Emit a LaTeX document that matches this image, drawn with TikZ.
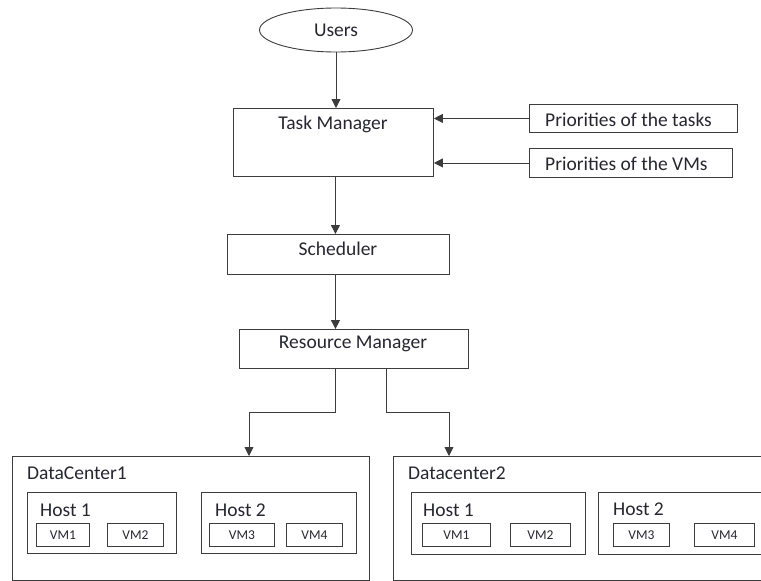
\documentclass[tikz,border=0pt]{standalone}
\usepackage{fontspec}
\setmainfont{Carlito}
\usetikzlibrary{arrows.meta,shapes.geometric}
\definecolor{linegray}{HTML}{3C3C3C}
\definecolor{textgray}{HTML}{262630}
\tikzset{
  box/.style={draw=linegray,line width=0.9pt,anchor=north west,inner sep=0pt},
  lbl/.style={text=textgray,inner sep=0pt,font=\fontsize{19.5}{22}\selectfont},
  vmlbl/.style={text=textgray,inner sep=0pt,font=\fontsize{13.5}{15}\selectfont},
  arr/.style={draw=linegray,line width=0.9pt,-{Triangle[length=9pt,width=9pt]}}
}
\begin{document}
\begin{tikzpicture}[x=1pt,y=-1pt]
\useasboundingbox (0,0) rectangle (761,581);
%% users
\node[draw=linegray,line width=0.9pt,ellipse,minimum width=153pt,minimum height=44pt] (users) at (336,30) {};
\node[lbl] at (users.center) {Users};
%% task manager and priorities
\node[box,minimum width=200pt,minimum height=68pt] (tm) at (233,108) {};
\node[lbl] at (333,124) {Task Manager};
\node[box,minimum width=208pt,minimum height=28pt] (ptask) at (529,104) {};
\node[lbl,anchor=west] at (545,120) {Priorities of the tasks};
\node[box,minimum width=203pt,minimum height=29pt] (pvm) at (529,148) {};
\node[lbl,anchor=west] at (545,164) {Priorities of the VMs};
%% scheduler
\node[box,minimum width=222pt,minimum height=40pt] (sched) at (227,234) {};
\node[lbl] at (338,249) {Scheduler};
%% resource manager
\node[box,minimum width=229pt,minimum height=39pt] (rm) at (239,329) {};
\node[lbl] at (353,344) {Resource Manager};
%% datacenter 1
\node[box,minimum width=357pt,minimum height=124pt] (dc1) at (12,456) {};
\node[lbl,anchor=west] at (27,473) {DataCenter1};
\node[box,minimum width=149pt,minimum height=61pt] (dc1h1) at (27,492) {};
\node[lbl,anchor=west] at (40,510) {Host 1};
\node[box,minimum width=53pt,minimum height=23pt] (dc1vm1) at (36,523) {};
\node[vmlbl] at (dc1vm1.center) {VM1};
\node[box,minimum width=56pt,minimum height=23pt] (dc1vm2) at (107,523) {};
\node[vmlbl] at (dc1vm2.center) {VM2};
\node[box,minimum width=155pt,minimum height=61pt] (dc1h2) at (201,492) {};
\node[lbl,anchor=west] at (215,510) {Host 2};
\node[box,minimum width=65pt,minimum height=23pt] (dc1vm3) at (209,523) {};
\node[vmlbl] at (dc1vm3.center) {VM3};
\node[box,minimum width=56pt,minimum height=23pt] (dc1vm4) at (286,523) {};
\node[vmlbl] at (dc1vm4.center) {VM4};
%% datacenter 2
\node[box,minimum width=390pt,minimum height=124pt] (dc2) at (393,456) {};
\node[lbl,anchor=west] at (408,473) {Datacenter2};
\node[box,minimum width=174pt,minimum height=62pt] (dc2h1) at (411,492) {};
\node[lbl,anchor=west] at (423,510) {Host 1};
\node[box,minimum width=68pt,minimum height=23pt] (dc2vm1) at (422,523) {};
\node[vmlbl] at (dc2vm1.center) {VM1};
\node[box,minimum width=60pt,minimum height=23pt] (dc2vm2) at (510,523) {};
\node[vmlbl] at (dc2vm2.center) {VM2};
\node[box,minimum width=175pt,minimum height=62pt] (dc2h2) at (598,492) {};
\node[lbl,anchor=west] at (613,509) {Host 2};
\node[box,minimum width=56pt,minimum height=23pt] (dc2vm3) at (613,523) {};
\node[vmlbl] at (dc2vm3.center) {VM3};
\node[box,minimum width=60pt,minimum height=23pt] (dc2vm4) at (694,523) {};
\node[vmlbl] at (dc2vm4.center) {VM4};
%% arrows
\draw[arr] (users.south) -- (users.south |- tm.north);
\draw[arr] (ptask.west) -- (ptask.west -| tm.east);
\draw[arr] (pvm.west) -- (pvm.west -| tm.east);
\draw[arr] ([xshift=2pt]tm.south) -- ([xshift=2pt]tm.south |- sched.north);
\draw[arr] ([xshift=-3pt]sched.south) -- ([xshift=-3pt]sched.south |- rm.north);
\draw[arr] ([xshift=-19pt]rm.south) -- ++(0,44) -| ([xshift=237pt]dc1.north west);
\draw[arr] ([xshift=32pt]rm.south) -- ++(0,44) -| ([xshift=56pt]dc2.north west);
\end{tikzpicture}
\end{document}
